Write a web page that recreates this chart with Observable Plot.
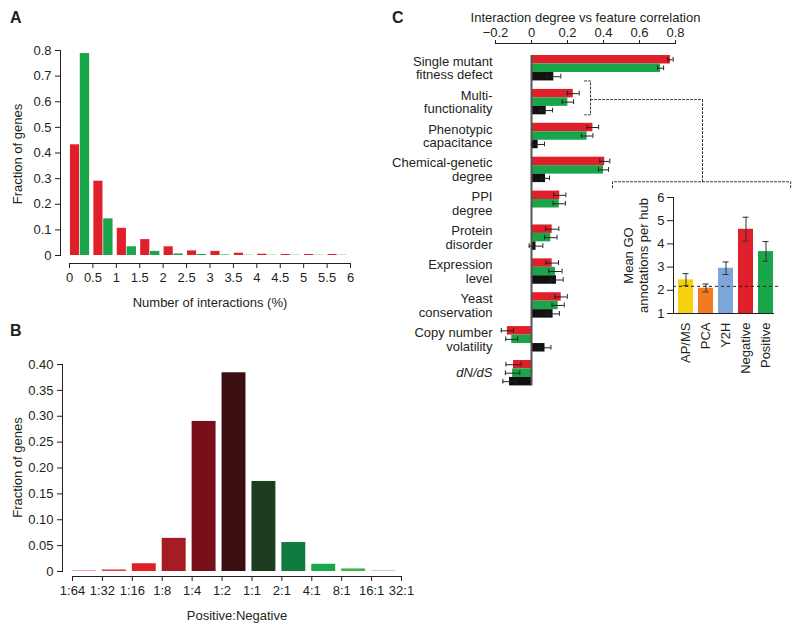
<!DOCTYPE html>
<html><head><meta charset="utf-8">
<script src="https://cdn.jsdelivr.net/npm/d3@7"></script>
<script src="https://cdn.jsdelivr.net/npm/@observablehq/plot@0.6"></script>
<style>
html,body{margin:0;padding:0;background:#fff;}
#root{position:relative;width:800px;height:632px;overflow:hidden;font-family:"Liberation Sans",Arial,sans-serif;color:#231f20;}
.panel{position:absolute;font-weight:bold;font-size:16px;line-height:1;}
</style></head><body><div id="root"></div>
<script>
// ---------- Panel A data ----------
const aBins = [0, 0.5, 1, 1.5, 2, 2.5, 3, 3.5, 4, 4.5, 5, 5.5];
const aNegative = [0.432, 0.29, 0.106, 0.062, 0.034, 0.018, 0.016, 0.009, 0.005, 0.004, 0.004, 0.004];
const aPositive = [0.788, 0.143, 0.034, 0.016, 0.006, 0.004, 0.002, 0.001, 0.001, 0.001, 0.001, 0.001];
const aXTicks = [0, 0.5, 1, 1.5, 2, 2.5, 3, 3.5, 4, 4.5, 5, 5.5, 6];
const aYTicks = [0, 0.1, 0.2, 0.3, 0.4, 0.5, 0.6, 0.7, 0.8];

// ---------- Panel B data ----------
const bRatios = ["1:64", "1:32", "1:16", "1:8", "1:4", "1:2", "1:1", "2:1", "4:1", "8:1", "16:1", "32:1"];
const bFractions = [0.002, 0.003, 0.015, 0.064, 0.290, 0.384, 0.174, 0.056, 0.014, 0.005, 0.002];
const bColors = ["#f3a3a6", "#e53a44", "#e01f26", "#a61c23", "#78101a", "#3b0f11", "#1c3d1f", "#0f7b3e", "#1ba64b", "#3db54b", "#c9c8ef"];
const bYTicks = [0, 0.05, 0.10, 0.15, 0.20, 0.25, 0.30, 0.35, 0.40];

// ---------- Panel C data ----------
const cFeatures = ["Single mutant\nfitness defect", "Multi-\nfunctionality", "Phenotypic\ncapacitance", "Chemical-genetic\ndegree", "PPI\ndegree", "Protein\ndisorder", "Expression\nlevel", "Yeast\nconservation", "Copy number\nvolatility", "dN/dS"];
const cNegative    = [0.772, 0.232, 0.341, 0.407, 0.157, 0.115, 0.115, 0.165, -0.134, -0.100];
const cNegativeErr = [0.015, 0.033, 0.032, 0.028, 0.034, 0.037, 0.035, 0.034, 0.034, 0.042];
const cPositive    = [0.717, 0.202, 0.309, 0.400, 0.154, 0.107, 0.133, 0.148, -0.110, -0.105];
const cPositiveErr = [0.017, 0.032, 0.032, 0.028, 0.034, 0.035, 0.037, 0.034, 0.033, 0.040];
const cAll         = [0.124, 0.082, 0.037, 0.078, 0.0, 0.025, 0.139, 0.120, 0.075, -0.122];
const cAllErr      = [0.039, 0.035, 0.035, 0.022, null, 0.038, 0.037, 0.035, 0.033, 0.037];
const cTicks = [-0.2, 0, 0.2, 0.4, 0.6, 0.8];
const cItalic = ["dN/dS"];

// ---------- Inset data ----------
const insetMethods = ["AP/MS", "PCA", "Y2H", "Negative", "Positive"];
const insetMeans = [2.45, 2.09, 2.95, 4.63, 3.67];
const insetLow   = [2.20, 1.93, 2.68, 4.12, 3.25];
const insetHigh  = [2.72, 2.27, 3.22, 5.15, 4.10];
const insetColors = ["#f6d10f", "#f27b21", "#7fa6d9", "#df1f2a", "#1aa64b"];
const insetBaseline = 2.17;
const insetTicks = [1, 2, 3, 4, 5, 6];

// connector (dotted) in panel C data units: x = correlation units, slot = bar-slot units
const cConnector = [
  {path: 0, x: 0.295, slot: 3}, {path: 0, x: 0.328, slot: 3}, {path: 0, x: 0.328, slot: 7}, {path: 0, x: 0.295, slot: 7},
  {path: 1, x: 0.328, slot: 5.2}, {path: 1, x: 0.95, slot: 5.2}, {path: 1, x: 0.95, slot: 14.9},
  {path: 2, x: 0.45, slot: 15.6}, {path: 2, x: 0.45, slot: 14.9}, {path: 2, x: 1.44, slot: 14.9}, {path: 2, x: 1.44, slot: 15.6}
];

const RED = "#e01f2a", GREEN = "#19a64b", BLACK = "#111111";
const root = document.getElementById("root");
const FONT = '"Liberation Sans", Arial, Helvetica, sans-serif';
const baseStyle = {fontFamily: FONT, fontSize: "13px", background: "transparent", color: "#231f20", overflow: "visible"};
const fmt = d3.format("~g");
function place(el, left, top) {
  el.style.position = "absolute"; el.style.left = left + "px"; el.style.top = top + "px";
  root.appendChild(el);
}
function panelLabel(t, left, top) {
  const d = document.createElement("div"); d.className = "panel"; d.textContent = t;
  d.style.left = left + "px"; d.style.top = top + "px"; root.appendChild(d);
}

// ---------- Panel A ----------
const aRows = aBins.flatMap((b, i) => [
  {bin: b, type: "neg", v: aNegative[i]},
  {bin: b, type: "pos", v: aPositive[i]}
]);
const plotA = Plot.plot({
  width: 380, height: 320, marginLeft: 60, marginRight: 30, marginTop: 50, marginBottom: 57,
  style: baseStyle,
  x: {domain: [0, 6], insetLeft: 9},
  y: {domain: [0, 0.8], insetBottom: 8},
  color: {type: "identity"},
  marks: [
    Plot.rect(aRows, {
      x1: d => d.bin + (d.type === "neg" ? 0.02 : 0.23),
      x2: d => d.bin + (d.type === "neg" ? 0.215 : 0.43),
      y1: () => 0, y2: "v",
      fill: d => d.type === "neg" ? RED : GREEN
    }),
    Plot.frame({anchor: "left", insetBottom: 8}),
    Plot.frame({anchor: "bottom", insetLeft: 9}),
    Plot.axisY({ticks: aYTicks, tickSize: 5, tickPadding: 4, label: null, fontSize: 13, tickFormat: fmt}),
    Plot.axisX({ticks: aXTicks, tickSize: 5, tickPadding: 4, label: null, fontSize: 13, tickFormat: fmt}),
    Plot.text(["Fraction of genes"], {frameAnchor: "left", dx: -43, dy: -3, rotate: -90, textAnchor: "middle", lineAnchor: "middle", fontSize: 13}),
    Plot.text(["Number of interactions (%)"], {frameAnchor: "bottom", dx: 4.5, dy: 39, lineAnchor: "middle", fontSize: 13})
  ]
});
place(plotA, 0, 0);

// ---------- Panel B ----------
const bRows = bFractions.map((v, i) => ({edge: i - 6, v, color: bColors[i]}));
const plotB = Plot.plot({
  width: 420, height: 332, marginLeft: 62, marginRight: 19, marginTop: 64, marginBottom: 56,
  style: baseStyle,
  x: {domain: [-6, 5], insetLeft: 10},
  y: {domain: [0, 0.4], insetBottom: 5},
  color: {type: "identity"},
  marks: [
    Plot.rect(bRows, {x1: "edge", x2: d => d.edge + 0.8, y1: () => 0, y2: "v", fill: "color"}),
    Plot.frame({anchor: "left", insetBottom: 5}),
    Plot.frame({anchor: "bottom", insetLeft: 10}),
    Plot.axisY({ticks: bYTicks, tickSize: 5, tickPadding: 4, label: null, fontSize: 13,
      tickFormat: d => d === 0 ? "0" : d.toFixed(2)}),
    Plot.axisX({ticks: d3.range(-6, 6), tickSize: 5, tickPadding: 4, label: null, fontSize: 13,
      tickFormat: d => bRatios[d + 6]}),
    Plot.text(["Fraction of genes"], {frameAnchor: "left", dx: -45, dy: -3, rotate: -90, textAnchor: "middle", lineAnchor: "middle", fontSize: 13}),
    Plot.text(["Positive:Negative"], {frameAnchor: "bottom", dx: 5, dy: 39, lineAnchor: "middle", fontSize: 13})
  ]
});
place(plotB, 0, 300);

// ---------- Panel C ----------
const series = [
  {key: "neg", vals: cNegative, errs: cNegativeErr, color: RED},
  {key: "pos", vals: cPositive, errs: cPositiveErr, color: GREEN},
  {key: "all", vals: cAll, errs: cAllErr, color: BLACK}
];
const cRows = cFeatures.flatMap((f, i) => series.map((s, j) => ({
  feature: f, slot: 4 * i + j, v: s.vals[i], e: s.errs[i], color: s.color
})));
const cErrRows = cRows.filter(d => d.e != null);
const cCaps = cErrRows.flatMap(d => [{x: d.v - d.e, slot: d.slot}, {x: d.v + d.e, slot: d.slot}]);
const cLabelRows = cFeatures.map((f, i) => ({label: f, mid: 4 * i + 1.5}));
const plotC = Plot.plot({
  width: 420, height: 400, marginLeft: 115, marginRight: 125, marginTop: 43, marginBottom: 14.6,
  style: baseStyle,
  x: {domain: [-0.2, 0.8]},
  y: {domain: [-1.42, 39], reverse: true, axis: null},
  color: {type: "identity"},
  marks: [
    Plot.frame({anchor: "top"}),
    Plot.axisX({anchor: "top", ticks: cTicks, tickSize: 4, tickPadding: 3, label: null, fontSize: 13,
      tickFormat: fmt}),
    Plot.text(["Interaction degree vs feature correlation"], {frameAnchor: "top", dy: -26, lineAnchor: "middle", fontSize: 13}),
    Plot.rect(cRows, {x1: () => 0, x2: "v", y1: "slot", y2: d => d.slot + 1, fill: "color"}),
    Plot.ruleX([0], {y1: () => 0, y2: () => 39, stroke: "#555", strokeWidth: 2}),
    Plot.ruleY(cErrRows, {y: d => d.slot + 0.5, x1: d => d.v - d.e, x2: d => d.v + d.e, stroke: "#222", strokeWidth: 1}),
    Plot.ruleX(cCaps, {x: "x", y1: d => d.slot + 0.22, y2: d => d.slot + 0.78, stroke: "#222", strokeWidth: 1}),
    Plot.text(cLabelRows.filter(d => !cItalic.includes(d.label)), {y: "mid", text: "label", frameAnchor: "left", dx: -3, textAnchor: "end", lineHeight: 1.05, fontSize: 13}),
    Plot.text(cLabelRows.filter(d => cItalic.includes(d.label)), {y: "mid", text: "label", frameAnchor: "left", dx: -3, textAnchor: "end", fontStyle: "italic", fontSize: 13}),
    Plot.line(cConnector, {x: "x", y: "slot", z: "path", stroke: "#333", strokeWidth: 1, strokeDasharray: "2,2"})
  ]
});
place(plotC, 380, 0);

// ---------- Inset ----------
const insetRows = insetMethods.map((m, i) => ({m, v: insetMeans[i], lo: insetLow[i], hi: insetHigh[i], color: insetColors[i]}));
const plotI = Plot.plot({
  width: 200, height: 250, marginLeft: 73, marginRight: 27, marginTop: 27, marginBottom: 107,
  style: baseStyle,
  x: {domain: insetMethods, paddingInner: 0.25, paddingOuter: 0.125, align: 1},
  y: {domain: [1, 6]},
  color: {type: "identity"},
  marks: [
    Plot.barY(insetRows, {x: "m", y1: () => insetTicks[0], y2: "v", fill: "color"}),
    Plot.ruleX(insetRows, {x: "m", y1: "lo", y2: "hi", stroke: "#333", strokeWidth: 1}),
    Plot.tickY(insetRows, {x: "m", y: "lo", stroke: "#333", insetLeft: 4.5, insetRight: 4.5}),
    Plot.tickY(insetRows, {x: "m", y: "hi", stroke: "#333", insetLeft: 4.5, insetRight: 4.5}),
    Plot.ruleY([insetBaseline], {stroke: "#222", strokeDasharray: "3,3", insetRight: -7}),
    Plot.frame({anchor: "left"}),
    Plot.frame({anchor: "bottom"}),
    Plot.axisY({ticks: insetTicks, tickSize: 6, tickPadding: 3, label: null, fontSize: 13, tickFormat: d3.format("d")}),
    Plot.axisX({tickSize: 0, tickPadding: 9, tickRotate: -90, label: null, fontSize: 13}),
    Plot.text(["Mean GO\nannotations per hub"], {frameAnchor: "left", dx: -37.5, rotate: -90, textAnchor: "middle", lineAnchor: "middle", lineHeight: 1.15, fontSize: 13})
  ]
});
place(plotI, 600, 170);

panelLabel("A", 10, 10);
panelLabel("B", 10, 323);
panelLabel("C", 392, 10);
</script>
</body></html>
